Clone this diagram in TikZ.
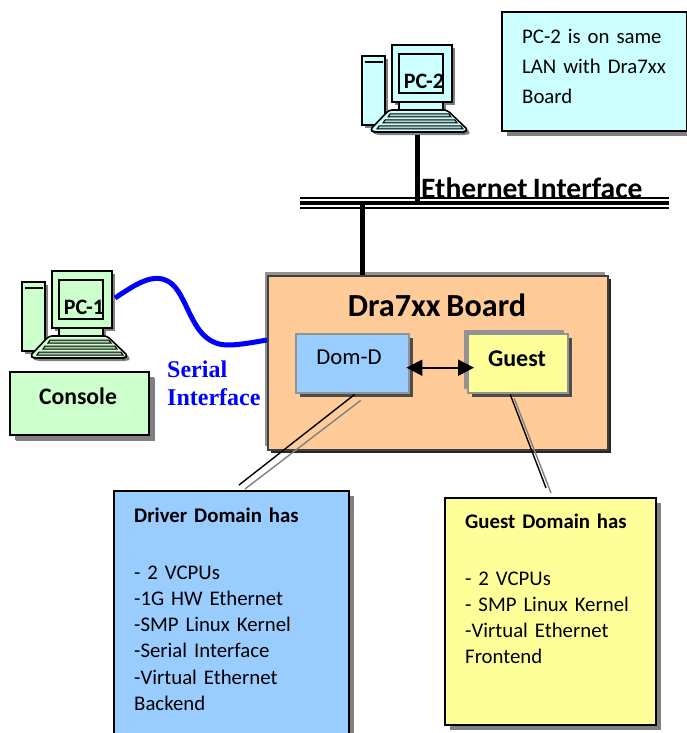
\documentclass[tikz,border=0pt]{standalone}
\usepackage{fontspec}
\usepackage{tikz}
\usetikzlibrary{shadows,arrows.meta}
\setmainfont[WordSpace=0.8]{Carlito}
\newfontfamily\serialFont{Liberation Serif}
\definecolor{pcCyan}{HTML}{CCFFFF}
\definecolor{pcGreen}{HTML}{CCFFCC}
\definecolor{boardOrange}{HTML}{FFCC99}
\definecolor{domBlue}{HTML}{99CCFF}
\definecolor{domYellow}{HTML}{FFFF99}
\newcommand{\bodySize}[0]{\fontsize{20.8}{26.2}\selectfont}
\newcommand{\pcIcon}[4]{
  \begin{scope}[shift={(#2)}]
    \path[pcPart, fill=#3] (-30,11) rectangle (-7,80);
    \draw[line width=2pt] (-27,17) -- (-9,17);
    \path[pcPart, fill=#3] (0,0) rectangle (60,57);
    \path[pcPart, fill=#3] (7,57) rectangle (51,66);
    \path[pcPart, fill=#3, rounded corners=3pt] (-3,65) -- (55,65) -- (76,85) -- (72,87) -- (-18,87) -- (-22,85) -- cycle;
    \foreach \rowY/\rowL/\rowR in {69/-2/57, 75/-7/63, 81/-13/69}
      \draw[fill=#3!60!gray, line width=1pt] (\rowL,\rowY) -- (\rowR,\rowY) -- (\rowR+2,\rowY+3) -- (\rowL-2,\rowY+3) -- cycle;
    \draw[line width=1.6pt] (7,9) rectangle (51,48);
    \node[pcText] (#1) at (32,36) {#4};
    \coordinate (#1-base) at (25,90);
    \coordinate (#1-port) at (63,27);
  \end{scope}
}
\tikzset{
  softShadow/.style={drop shadow={opacity=1, fill=gray, shadow xshift=#1, shadow yshift=-#1}},
  pcPart/.style={draw, line width=1.6pt, softShadow=3pt},
  pcText/.style={font=\fontsize{22}{24}\selectfont\bfseries, inner sep=0pt},
  noteBox/.style={draw, line width=1.6pt, anchor=north west, inner sep=0pt, softShadow=5pt},
  domBox/.style={draw=gray!85, line width=2.4pt, anchor=north west, inner sep=0pt, minimum height=59pt,
    drop shadow={opacity=1, fill=black!70, shadow xshift=3.5pt, shadow yshift=-3.5pt},
    drop shadow={opacity=1, fill=gray!85, shadow xshift=-1.5pt, shadow yshift=1.5pt}},
  noteText/.style={anchor=north west, align=left, inner sep=0pt, font=\bodySize},
  busLine/.style={line width=5pt},
  callout/.style={line width=1.4pt},
  calloutGray/.style={line width=1.4pt, gray}
}
\begin{document}
\begin{tikzpicture}[x=1pt, y=-1pt]
  \useasboundingbox (0,0) rectangle (687,733);
  \node[noteBox, fill=pcCyan, minimum width=185pt, minimum height=119pt] (lanNote) at (501,11) {};
  \node[noteText, text width=160pt, font=\fontsize{20.8}{30}\selectfont] (lanText) at (522,29) {PC-2 is on same\\LAN with Dra7xx\\Board};
  \pcIcon{pc-2}{392,45}{pcCyan}{PC-2}
  \pcIcon{pc-1}{52,271}{pcGreen}{PC-1}
  % ethernet bus
  \coordinate (busLeft) at (300,203);
  \coordinate (busRight) at (669,203);
  \coordinate (busDrop) at (362,203);
  \draw[line width=11.5pt] (busLeft) -- (busRight);
  \draw[white, line width=7.5pt] (busLeft) -- (busRight);
  \draw[line width=4pt] (busLeft) -- (busRight);
  \draw[busLine] (pc-2-base) -- (pc-2-base |- busLeft);
  \node[font=\fontsize{29.6}{32}\selectfont\bfseries, inner sep=0pt, anchor=base west] (ethLabel) at (421,198) {Ethernet Interface};
  % board
  \node[draw=black!75, fill=boardOrange, line width=2pt, anchor=north west, inner sep=0pt,
    minimum width=340pt, minimum height=174pt,
    drop shadow={opacity=1, fill=black!85, shadow xshift=3pt, shadow yshift=-3pt},
    drop shadow={opacity=1, fill=gray!85, shadow xshift=-3pt, shadow yshift=4pt}] (board) at (267,275) {};
  \node[font=\fontsize{32.2}{34}\selectfont\bfseries, inner sep=0pt] (boardTitle) at (437,305) {Dra7xx Board};
  \draw[busLine] (busDrop) -- (busDrop |- board.north);
  \node[domBox, fill=domBlue, minimum width=113pt] (domD) at (295,333) {};
  \node[font=\fontsize{22.8}{25}\selectfont, inner sep=0pt] (domDText) at (349,357) {Dom-D};
  \node[domBox, fill=domYellow, minimum width=100pt,
    drop shadow={opacity=1, fill=gray!85, shadow xshift=-4pt, shadow yshift=4pt}] (guest) at (467,333) {};
  \node[font=\fontsize{24}{26}\selectfont\bfseries, inner sep=0pt] (guestText) at (517,359) {Guest};
  \draw[{Triangle[length=16pt,width=16pt]}-{Triangle[length=16pt,width=16pt]}, line width=2pt, shorten <=-4pt, shorten >=-7pt]
    ([yshift=-4pt]domD.east) -- ([yshift=-4pt]guest.west);
  % console and serial link
  \node[noteBox, fill=pcGreen, minimum width=139pt, minimum height=63pt, softShadow=6pt] (console) at (9,371) {};
  \node[font=\fontsize{23.7}{26}\selectfont\bfseries, inner sep=0pt] (consoleText) at (78,396) {Console};
  \coordinate (boardPort) at (267,340);
  \draw[blue, line width=5pt] (pc-1-port) .. controls (135,285) and (155,270) .. (172,284)
    .. controls (190,300) and (192,345) .. (228,345) .. controls (240,345) and (255,342) .. (boardPort);
  \node[anchor=north west, align=left, inner sep=0pt, text=blue, font=\serialFont\fontsize{24}{28}\selectfont\bfseries] (serialText) at (167,361) {Serial\\Interface};
  % callouts
  \coordinate (driverTip) at (239,485);
  \coordinate (driverTipGray) at (245,489);
  \coordinate (guestTip) at (546,488);
  \coordinate (guestTipGray) at (551,493);
  \draw[calloutGray] ([shift={(8pt,-6pt)}]domD.south) -- (driverTipGray);
  \draw[callout] ([xshift=2pt]domD.south) -- (driverTip);
  \draw[calloutGray] ([shift={(-4pt,-4pt)}]guest.south) -- (guestTipGray);
  \draw[callout] ([xshift=-8pt]guest.south) -- (guestTip);
  % domain notes
  \node[noteBox, fill=domBlue, minimum width=235pt, minimum height=270pt] (driverBox) at (113,490) {};
  \node[noteText, text width=205pt] (driverText) at (134,508) {\textbf{Driver Domain has}\\\mbox{}\\[4pt]- 2 VCPUs\\-1G HW Ethernet\\-SMP Linux Kernel\\-Serial Interface\\-Virtual Ethernet\\Backend};
  \node[noteBox, fill=domYellow, minimum width=211pt, minimum height=227pt] (guestBox) at (444,497) {};
  \node[noteText, text width=180pt] (guestDomText) at (465,514) {\textbf{Guest Domain has}\\\mbox{}\\[4pt]- 2 VCPUs\\- SMP Linux Kernel\\-Virtual Ethernet\\Frontend};
\end{tikzpicture}
\end{document}
